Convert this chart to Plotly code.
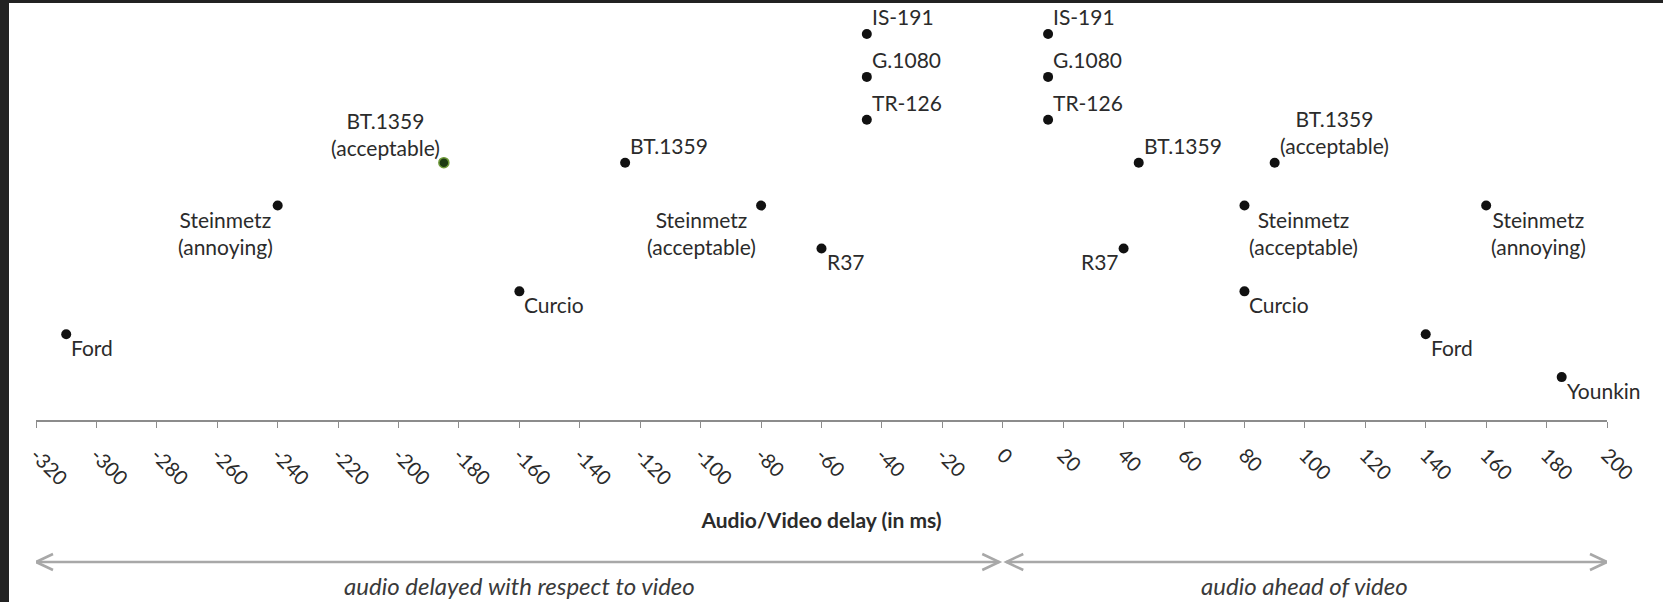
import plotly.graph_objects as go

# ---------------- data ----------------
labels = ["Ford", "Steinmetz<br>(annoying)", "BT.1359<br>(acceptable)", "Curcio", "BT.1359",
          "Steinmetz<br>(acceptable)", "R37", "TR-126", "G.1080", "IS-191",
          "IS-191", "G.1080", "TR-126", "R37", "BT.1359", "Steinmetz<br>(acceptable)",
          "Curcio", "BT.1359<br>(acceptable)", "Ford", "Steinmetz<br>(annoying)", "Younkin"]
delay_ms = [-310, -240, -185, -160, -125, -80, -60, -45, -45, -45,
            15, 15, 15, 40, 45, 80, 80, 90, 140, 160, 185]
level = [2, 5, 6, 3, 6, 5, 4, 7, 8, 9,
         9, 8, 7, 4, 6, 5, 3, 6, 2, 5, 1]
label_pos = ["br", "bl", "tl", "br", "tr", "bl", "br", "tr", "tr", "tr",
             "tr", "tr", "tr", "bl", "tr", "br", "br", "tr", "br", "br", "br"]
highlight = [False, False, True] + [False] * 18

tick_vals = list(range(-320, 201, 20))
tick_text = [str(v) for v in tick_vals]  # plain hyphen minus as in the original

regions = [("audio delayed with respect to video", -320, 0),
           ("audio ahead of video", 0, 200)]

X_MIN, X_MAX = -320, 200
Y_MAX = 9.7

# ---------------- layout geometry ----------------
W, H = 1663, 602
ML, MR, MT, MB = 36, 56, 4, 182
plot_w = W - ML - MR
px_per_ms = plot_w / (X_MAX - X_MIN)

FONT = "Lato"
TXT = "#2b2b2b"

fig = go.Figure()
fig.add_trace(go.Scatter(
    x=delay_ms, y=level, mode="markers",
    marker=dict(size=10,
                color=["#1c3a12" if h else "#111111" for h in highlight],
                line=dict(color=["#6f9a3a" if h else "#111111" for h in highlight],
                          width=[1.5 if h else 0 for h in highlight])),
    hoverinfo="skip", showlegend=False))

anchors = {
    "br": dict(xanchor="left", yanchor="top", xshift=3, yshift=1),
    "bl": dict(xanchor="right", yanchor="top", xshift=-3, yshift=1),
    "tr": dict(xanchor="left", yanchor="bottom", xshift=3, yshift=3),
    "tl": dict(xanchor="right", yanchor="bottom", xshift=-2, yshift=1),
}
annotations = []
for t, x, y, p in zip(labels, delay_ms, level, label_pos):
    annotations.append(dict(x=x, y=y, xref="x", yref="y", text=t, showarrow=False,
                            align="center", font=dict(family=FONT, size=21, color=TXT),
                            **anchors[p]))

# arrows and captions below the axis
ARROW_Y = -142.0      # px below plot bottom
CAPTION_Y = -165.5
GAP = 3.5 / px_per_ms
ARROW_COLOR = "#a8a8a8"
shapes = []
for text, a, b in regions:
    x0 = a + (GAP if a == 0 else 0)
    x1 = b - (GAP if b == 0 else 0)
    shapes.append(dict(type="line", xref="x", yref="paper", ysizemode="pixel", yanchor=0,
                       x0=x0, x1=x1, y0=ARROW_Y, y1=ARROW_Y,
                       line=dict(color=ARROW_COLOR, width=2.5)))
    for xe, d in ((x0, 1), (x1, -1)):
        shapes.append(dict(type="path", xref="x", yref="paper", xsizemode="pixel", ysizemode="pixel",
                           xanchor=xe, yanchor=0,
                           path=f"M {17*d},{ARROW_Y+8} L 0,{ARROW_Y} L {17*d},{ARROW_Y-8}",
                           line=dict(color=ARROW_COLOR, width=2.5)))
    annotations.append(dict(x=(a + b) / 2, y=0, xref="x", yref="paper", yshift=CAPTION_Y,
                            yanchor="middle", text=f"<i>{text}</i>", showarrow=False,
                            font=dict(family=FONT, size=24, color="#3a3a3a")))

# dark frame of the screenshot (left and top)
shapes.append(dict(type="rect", xref="paper", yref="paper", xsizemode="pixel", xanchor=0,
                   x0=-ML, x1=-ML + 9, y0=-1, y1=2, fillcolor="#222222", line=dict(width=0),
                   layer="above"))
shapes.append(dict(type="rect", xref="paper", yref="paper", ysizemode="pixel", yanchor=1,
                   x0=-1, x1=2, y0=MT, y1=MT - 3, fillcolor="#222222", line=dict(width=0),
                   layer="above"))

fig.update_layout(
    width=W, height=H,
    margin=dict(l=ML, r=MR, t=MT, b=MB, autoexpand=False),
    paper_bgcolor="white", plot_bgcolor="white",
    xaxis=dict(range=[X_MIN, X_MAX], tickmode="array", tickvals=tick_vals, ticktext=tick_text,
               tickangle=45, ticks="outside", ticklen=6, tickcolor="#8c8c8c", tickwidth=1,
               ticklabelstandoff=8,
               showline=True, linecolor="#8c8c8c", linewidth=1.5, showgrid=False, zeroline=False,
               tickfont=dict(family=FONT, size=20, color=TXT),
               title=dict(text="<b>Audio/Video delay (in ms)</b>", standoff=25,
                          font=dict(family=FONT, size=21, color=TXT)),
               automargin=False, fixedrange=True),
    yaxis=dict(range=[0, Y_MAX], visible=False, fixedrange=True),
    annotations=annotations, shapes=shapes,
    showlegend=False,
)

fig.write_html("out.html", config={"displayModeBar": False},
               post_script="document.body.style.margin='0';document.body.style.overflow='hidden';")
